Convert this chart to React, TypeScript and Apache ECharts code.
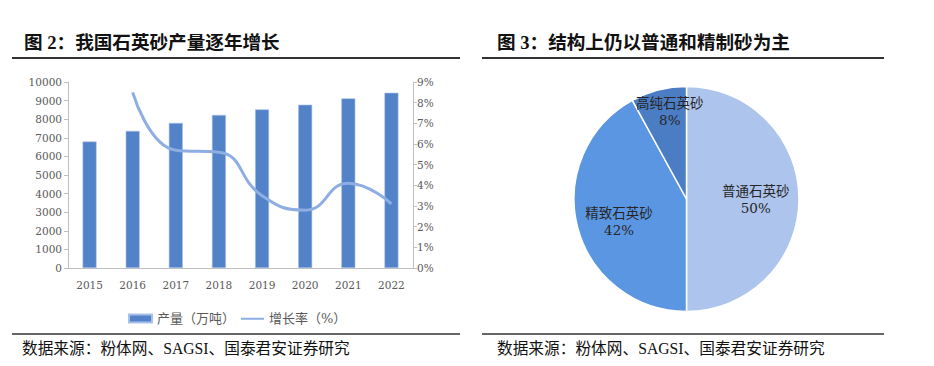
import React, { useEffect, useRef } from "react";
import * as echarts from "echarts";

const years = ["2015", "2016", "2017", "2018", "2019", "2020", "2021", "2022"];
const output = [6800, 7370, 7800, 8230, 8530, 8780, 9120, 9420];
const growth = [null, 8.5, 5.7, 5.6, 3.5, 2.8, 4.1, 3.1];
const leftTicks = [0, 10000, 1000];
const rightTicks = [0, 9, 1];
const pieNames = ["普通石英砂", "精致石英砂", "高纯石英砂"];
const pieValues = [50, 42, 8];
const pieColors = ["#adc4ec", "#5b96e2", "#4b7dc4"];

const serif = '"Times New Roman", "Liberation Serif", "Noto Sans CJK SC", serif';
const tickFont = '"DejaVu Serif", "Noto Sans CJK SC", serif';
const gray = "#595959";
const lineIcon = "path://M0,0 L0.01,0 L0.01,0.01 Z M0,3.2 L23,3.2 L23,5.2 L0,5.2 Z M0,8 L0.01,8 L0.01,7.99 Z";

export default function App() {
  const ref = useRef<HTMLDivElement>(null);
  useEffect(() => {
    const chart = echarts.init(ref.current!, undefined, { renderer: "svg" });
    chart.setOption({
      animation: false,
      textStyle: { fontFamily: serif },
      grid: { left: 68, right: 521, top: 82, bottom: 98, containLabel: false },
      legend: {
        left: 123,
        top: 307,
        itemWidth: 23,
        itemHeight: 8,
        itemGap: 6,
        textStyle: { color: gray, fontSize: 13, fontFamily: tickFont },
        data: [
          { name: "产量（万吨）", icon: "rect" },
          { name: "增长率（%）", icon: lineIcon },
        ],
      },
      xAxis: {
        type: "category",
        data: years,
        axisLine: { lineStyle: { color: "#bfbfbf" } },
        axisTick: { show: false },
        axisLabel: { color: gray, fontSize: 10.5, margin: 12, fontFamily: tickFont },
      },
      yAxis: [
        {
          type: "value",
          min: leftTicks[0],
          max: leftTicks[1],
          interval: leftTicks[2],
          axisLine: { show: true, lineStyle: { color: "#bfbfbf" } },
          axisTick: { show: true, length: 4, lineStyle: { color: "#bfbfbf" } },
          splitLine: { show: false },
          axisLabel: { color: gray, fontSize: 10.5, margin: 6, fontFamily: tickFont, formatter: (v: number) => String(v) },
        },
        {
          type: "value",
          min: rightTicks[0],
          max: rightTicks[1],
          interval: rightTicks[2],
          position: "right",
          axisLine: { show: true, lineStyle: { color: "#bfbfbf" } },
          axisTick: { show: true, length: 4, lineStyle: { color: "#bfbfbf" } },
          splitLine: { show: false },
          axisLabel: { color: gray, fontSize: 10.5, margin: 4, formatter: "{value}%", fontFamily: tickFont },
        },
      ],
      series: [
        {
          name: "产量（万吨）",
          type: "bar",
          data: output,
          barWidth: 14,
          itemStyle: { color: "#5282c8", borderColor: "#a9c1e8", borderWidth: 0.6 },
        },
        {
          name: "增长率（%）",
          type: "line",
          yAxisIndex: 1,
          data: growth,
          smooth: 0.5,
          symbol: "none",
          itemStyle: { color: "#8eaee3" },
          lineStyle: { color: "#8eaee3", width: 3 },
        },
        {
          type: "pie",
          center: [686.5, 199],
          radius: 112.5,
          startAngle: 90,
          clockwise: true,
          data: pieNames.map((n, i) => ({ name: n, value: pieValues[i], itemStyle: { color: pieColors[i] } })),
          itemStyle: { borderColor: "#ffffff", borderWidth: 1.5 },
          label: {
            position: "inside",
            formatter: "{b}\n{d}%",
            color: "#262626",
            fontSize: 13.5,
            lineHeight: 17,
            fontFamily: tickFont,
          },
          labelLine: { show: false },
          labelLayout: (p: any) => {
            if (p.dataIndex === 0) return { dx: 10, dy: 0 };
            if (p.dataIndex === 1) return { dx: -10, dy: 8 };
            return { dx: -2, dy: -30 };
          },
          emphasis: { disabled: true },
        },
      ],
      graphic: [
        { type: "text", left: 24, top: 33, style: { text: "图 2：我国石英砂产量逐年增长", font: `bold 18.6px ${serif}`, fill: "#111" } },
        { type: "text", left: 497, top: 33, style: { text: "图 3：结构上仍以普通和精制砂为主", font: `bold 18.6px ${serif}`, fill: "#111" } },
        { type: "line", shape: { x1: 12, y1: 58, x2: 460, y2: 58 }, style: { stroke: "#333", lineWidth: 2 } },
        { type: "line", shape: { x1: 482, y1: 58, x2: 884, y2: 58 }, style: { stroke: "#333", lineWidth: 2 } },
        { type: "line", shape: { x1: 12, y1: 334, x2: 460, y2: 334 }, style: { stroke: "#333", lineWidth: 1.5 } },
        { type: "line", shape: { x1: 482, y1: 334, x2: 884, y2: 334 }, style: { stroke: "#333", lineWidth: 1.5 } },
        { type: "text", left: 22, top: 341, style: { text: "数据来源：粉体网、SAGSI、国泰君安证券研究", font: `15.7px ${serif}`, fill: "#111" } },
        { type: "text", left: 497, top: 341, style: { text: "数据来源：粉体网、SAGSI、国泰君安证券研究", font: `15.7px ${serif}`, fill: "#111" } },
      ],
    });
    return () => chart.dispose();
  }, []);
  return <div ref={ref} style={{ position: "absolute", left: 0, top: 0, width: 934, height: 366 }} />;
}
